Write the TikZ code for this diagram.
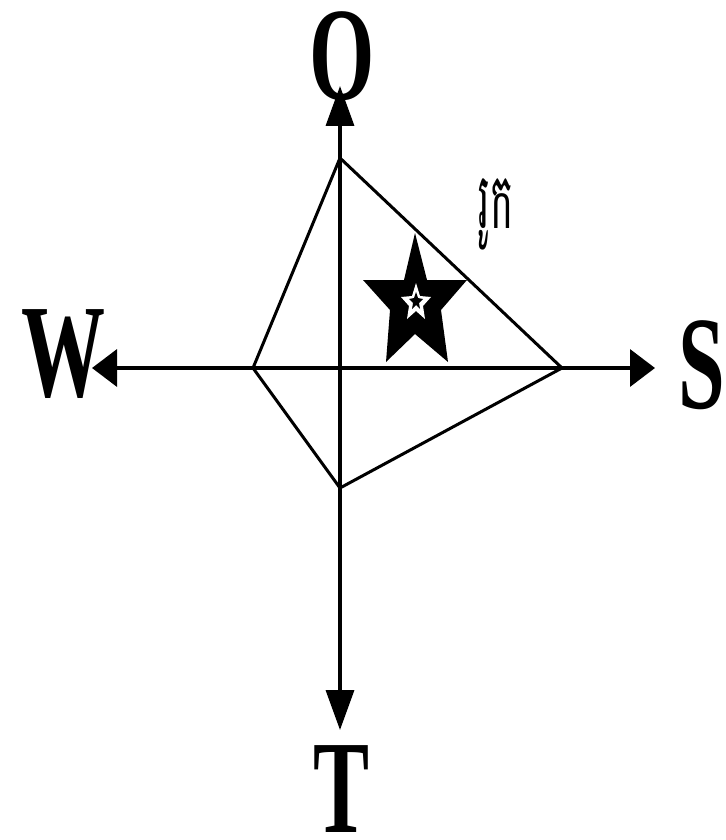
\documentclass[tikz,border=0pt]{standalone}
\usepackage{fontspec}
\setmainfont{Liberation Serif}
\newfontfamily\khmerfont[Script=Khmer]{Battambang}
\usetikzlibrary{arrows.meta}
\tikzset{
  axis/.style={line width=3.5pt},
  harrow/.style={-{Triangle[length=25pt,width=37pt]}},
  varrow/.style={-{Triangle[length=40pt,width=28pt]}},
  kite/.style={line width=3pt, line join=miter},
  dirlabel/.style={inner sep=0pt, font=\fontsize{84}{84}\selectfont\bfseries},
}
\newcommand{\tallbox}[1]{\scalebox{1}[1.58]{#1}}
\begin{document}
\begin{tikzpicture}[x=1pt,y=-1pt]
\useasboundingbox (0,0) rectangle (725,840);
% coordinates
\coordinate (c) at (340,368);
\coordinate (otip) at (340,86);
\coordinate (ttip) at (340,730);
\coordinate (wtip) at (92,368);
\coordinate (stip) at (655,368);
\coordinate (ktop) at (340,158);
\coordinate (kleft) at (253,368);
\coordinate (kbot) at (340,488);
\coordinate (kright) at (562,368);
% axes
\draw[axis,harrow] (c) -- (wtip);
\draw[axis,harrow] (c) -- (stip);
\draw[axis,varrow] (c) -- (otip);
\draw[axis,varrow] (c) -- (ttip);
% kite
\draw[kite] (ktop) -- (kleft) -- (kbot) -- (kright) -- cycle;
% star
\fill[black] (415,233) -- (427,280) -- (467,280) -- (441,310) -- (448,362)
   -- (415,334) -- (386,362) -- (390,310) -- (363,280) -- (404,280) -- cycle;
\fill[white] (416,283) -- (420,296) -- (431,297) -- (423,306) -- (425,319)
   -- (416,311) -- (407,319) -- (409,306) -- (401,297) -- (412,296) -- cycle;
\fill[black] (416,292) -- (418,298) -- (423,299) -- (419,303) -- (420,309)
   -- (416,305) -- (412,309) -- (413,303) -- (409,299) -- (414,298) -- cycle;
% labels
\node[dirlabel] (O) at (342,56) {\tallbox{O}};
\node[dirlabel] (W) at (63,354) {\tallbox{W}};
\node[dirlabel] (S) at (702,365) {\tallbox{S}};
\node[dirlabel] (T) at (342,789) {\tallbox{T}};
\node[inner sep=0pt] (rk) at (496,214) {\scalebox{0.75}[1.5]{\fontsize{52}{56}\khmerfont រូក}};
\end{tikzpicture}
\end{document}
